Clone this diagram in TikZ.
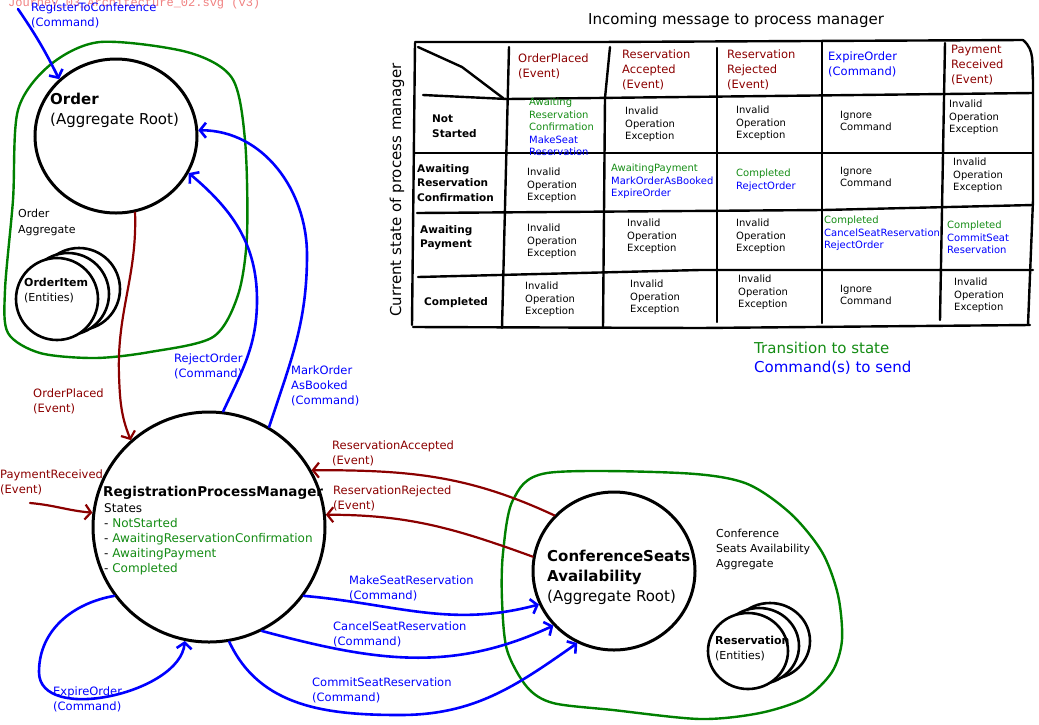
\documentclass[tikz,border=0pt]{standalone}
\usepackage{fontspec}
\setmainfont{DejaVu Sans}
\newfontfamily\wmfont{Liberation Mono}
\usetikzlibrary{shapes.geometric,arrows.meta}
\definecolor{evred}{RGB}{139,0,0}
\definecolor{aggreen}{RGB}{0,128,0}
\definecolor{stgreen}{RGB}{20,140,20}
\definecolor{cmdblue}{RGB}{0,0,255}
\definecolor{wmpink}{RGB}{240,128,128}
\begin{document}
\begin{tikzpicture}[x=1pt,y=-1pt,
  root/.style={ellipse,draw,line width=3pt,fill=white,inner sep=0pt},
  ent/.style={ellipse,draw,line width=2.6pt,fill=white,inner sep=0pt},
  agg/.style={draw=aggreen,line width=2.4pt},
  tbl/.style={line width=2.4pt,line cap=round,line join=round},
  cmd/.style={draw=cmdblue,line width=2.6pt,line cap=round,-{Straight Barb[length=6pt,width=15pt]}},
  evt/.style={draw=evred,line width=2.2pt,line cap=round,-{Straight Barb[length=6pt,width=15pt]}},
  lbl/.style={anchor=north west,inner sep=0pt,align=left,font=\fontsize{11.5}{15}\selectfont},
  cell/.style={lbl,font=\fontsize{10}{12.5}\selectfont},
  rowhd/.style={lbl,font=\bfseries\fontsize{10.5}{14.5}\selectfont}]
\pgfmathsetmacro{\kdx}{11}
\pgfmathsetmacro{\kdy}{5}
\useasboundingbox (0,0) rectangle (1039,724);
%watermark
\node[lbl,text=wmpink,font=\wmfont\fontsize{12}{12}\selectfont] (wm) at (8,-2) {Journey\_03\_Architecture\_02.svg (v3)};
%aggregates
\draw[agg] plot[smooth cycle] coordinates {(100,42) (187,52) (232,78) (245,140) (247,235) (238,295) (213,337) (150,352) (95,358) (40,353) (8,333) (5,290) (13,200) (18,110) (50,65)};
\draw[agg] plot[smooth cycle] coordinates {(547,473) (680,473) (745,483) (790,513) (822,552) (838,595) (842,640) (832,672) (805,698) (760,713) (700,719) (613,710) (553,703) (527,687) (507,650) (502,600) (503,553) (513,500)};
%roots
\node[root,minimum width=162pt,minimum height=154pt] (ord) at (116,136) {};
\node[root,minimum width=232pt,minimum height=230pt] (rpm) at (209,527) {};
\node[root,minimum width=162pt,minimum height=158pt] (csa) at (614,571) {};
%entities
\node[ent,minimum width=82pt,minimum height=82pt] (item3) at (57+2*\kdx,299-2*\kdy) {};
\node[ent,minimum width=82pt,minimum height=82pt] (item2) at (57+\kdx,299-\kdy) {};
\node[ent,minimum width=82pt,minimum height=82pt] (item1) at (57,299) {};
\node[ent,minimum width=80pt,minimum height=76pt] (res3) at (748+2*\kdx,651-2*\kdy) {};
\node[ent,minimum width=80pt,minimum height=76pt] (res2) at (748+\kdx,651-\kdy) {};
\node[ent,minimum width=80pt,minimum height=76pt] (res1) at (748,651) {};
%texts
\node[lbl,font=\fontsize{15}{20}\selectfont] (tord) at (50,93) {\textbf{Order}\\(Aggregate Root)};
\node[lbl,font=\fontsize{11}{16}\selectfont] (tagg) at (18,209) {Order\\Aggregate};
\node[lbl,font=\fontsize{11}{15}\selectfont] (titem) at (24,278) {\textbf{OrderItem}\\(Entities)};
\node[lbl,font=\bfseries\fontsize{13.5}{16}\selectfont] (trpm) at (103,486) {RegistrationProcessManager};
\node[lbl,font=\fontsize{12}{15}\selectfont] (tst) at (104,503) {States\\- \textcolor{stgreen}{NotStarted}\\- \textcolor{stgreen}{AwaitingReservationConfirmation}\\- \textcolor{stgreen}{AwaitingPayment}\\- \textcolor{stgreen}{Completed}};
\node[lbl,font=\fontsize{15}{20}\selectfont] (tcsa) at (547,550) {\textbf{ConferenceSeats}\\\textbf{Availability}\\(Aggregate Root)};
\node[lbl,font=\fontsize{11}{15}\selectfont] (tcagg) at (716,529) {Conference\\Seats Availability\\Aggregate};
\node[lbl,font=\fontsize{11}{15}\selectfont] (tres) at (715,636) {\textbf{Reservation}\\(Entities)};
%labels
\node[lbl,text=cmdblue] (lreg) at (31,3) {RegisterToConference\\(Command)};
\node[lbl,text=evred] (lop) at (33,389) {OrderPlaced\\(Event)};
\node[lbl,text=cmdblue] (lrej) at (174,354) {RejectOrder\\(Command)};
\node[lbl,text=cmdblue] (lmark) at (291,366) {MarkOrder\\AsBooked\\(Command)};
\node[lbl,text=evred] (lpay) at (0,470) {PaymentReceived\\(Event)};
\node[lbl,text=evred] (lacc) at (332,441) {ReservationAccepted\\(Event)};
\node[lbl,text=evred] (lrj) at (333,486) {ReservationRejected\\(Event)};
\node[lbl,text=cmdblue] (lmake) at (349,576) {MakeSeatReservation\\(Command)};
\node[lbl,text=cmdblue] (lcancel) at (333,622) {CancelSeatReservation\\(Command)};
\node[lbl,text=cmdblue] (lcommit) at (312,678) {CommitSeatReservation\\(Command)};
\node[lbl,text=cmdblue] (lexp) at (53,687) {ExpireOrder\\(Command)};
%arrows
\coordinate (reg) at (18,9);
\coordinate (pay) at (30,503);
\draw[cmd] (reg) to[bend left=4] (ord.135);
\draw[evt] (ord.-76) to[out=-88,in=92] (119,375) to[out=-88,in=112] (rpm.132);
\draw[cmd] (rpm.83) to[out=65,in=-90] (257,300) to[out=90,in=-40] (ord.-27);
\draw[cmd] (rpm.59) to[out=72,in=-90] (307,255) to[out=90,in=0] (ord.4);
\draw[evt] (pay) to[out=-5,in=175] (rpm.173);
\draw[evt] (csa.137) to[out=155,in=0] (rpm.29);
\draw[evt] (csa.170) to[out=160,in=0] (rpm.6);
\draw[cmd] (rpm.-36) to[out=-5,in=195] (csa.204);
\draw[cmd] (rpm.-63) to[out=-15,in=205] (csa.222);
\draw[cmd] (rpm.-80) to[out=-65,in=180] (400,715) to[out=0,in=215] (csa.243);
\draw[cmd] (rpm.216) to[out=190,in=90] (39,672) to[out=-90,in=-95,looseness=0.9] (rpm.258);
%table
\node[lbl,font=\fontsize{15}{18}\selectfont] (ttl) at (588,13) {Incoming message to process manager};
\node[font=\fontsize{15}{18}\selectfont,rotate=90] (tcur) at (397,190) {Current state of process manager};
\draw[tbl] (415,42) -- (597,42) -- (1023,40);
\draw[tbl] (1023,40) to[out=-40,in=95] (1033,80) -- (1033,200) -- (1028,325);
\draw[tbl] (415,43) -- (412,325);
\draw[tbl] (418,47) -- (462,67) -- (503,98);
\draw[tbl] (509,47) -- (502,328);
\draw[tbl] (610,47) -- (605,98) -- (603,328);
\draw[tbl] (717,48) -- (717,322);
\draw[tbl] (822,42) -- (822,323);
\draw[tbl] (945,43) -- (940,320);
\draw[tbl] (423,95) -- (507,99) -- (1033,93);
\draw[tbl] (415,153) -- (1033,153);
\draw[tbl] (417,213) -- (823,210) -- (1033,205);
\draw[tbl] (418,277) -- (700,270) -- (1033,270);
\draw[tbl] (413,327) -- (700,328) -- (1030,325);
%header
\node[lbl,text=evred] (h1) at (518,54) {OrderPlaced\\(Event)};
\node[lbl,text=evred] (h2) at (622,50) {Reservation\\Accepted\\(Event)};
\node[lbl,text=evred] (h3) at (727,50) {Reservation\\Rejected\\(Event)};
\node[lbl,text=cmdblue] (h4) at (828,52) {ExpireOrder\\(Command)};
\node[lbl,text=evred] (h5) at (951,45) {Payment\\Received\\(Event)};
\node[rowhd] (r1) at (432,115) {Not\\Started};
\node[rowhd] (r2) at (417,164) {Awaiting\\Reservation\\Confirmation};
\node[rowhd] (r3) at (420,225) {Awaiting\\Payment};
\node[rowhd] (r4) at (424,297) {Completed};
%cells
\node[cell,text=stgreen] (c11) at (529,98) {Awaiting\\Reservation\\Confirmation\\\textcolor{cmdblue}{MakeSeat}\\\textcolor{cmdblue}{Reservation}};
\node[cell] (c12) at (625,107) {Invalid\\Operation\\Exception};
\node[cell] (c13) at (736,106) {Invalid\\Operation\\Exception};
\node[cell] (c14) at (840,111) {Ignore\\Command};
\node[cell] (c15) at (949,100) {Invalid\\Operation\\Exception};
\node[cell] (c21) at (527,168) {Invalid\\Operation\\Exception};
\node[cell,text=stgreen] (c22) at (611,164) {AwaitingPayment\\\textcolor{cmdblue}{MarkOrderAsBooked}\\\textcolor{cmdblue}{ExpireOrder}};
\node[cell,text=stgreen] (c23) at (736,169) {Completed\\\textcolor{cmdblue}{RejectOrder}};
\node[cell] (c24) at (840,167) {Ignore\\Command};
\node[cell] (c25) at (953,158) {Invalid\\Operation\\Exception};
\node[cell] (c31) at (527,224) {Invalid\\Operation\\Exception};
\node[cell] (c32) at (627,219) {Invalid\\Operation\\Exception};
\node[cell] (c33) at (736,219) {Invalid\\Operation\\Exception};
\node[cell,text=stgreen] (c34) at (824,216) {Completed\\\textcolor{cmdblue}{CancelSeatReservation}\\\textcolor{cmdblue}{RejectOrder}};
\node[cell,text=stgreen] (c35) at (947,221) {Completed\\\textcolor{cmdblue}{CommitSeat}\\\textcolor{cmdblue}{Reservation}};
\node[cell] (c41) at (525,282) {Invalid\\Operation\\Exception};
\node[cell] (c42) at (630,280) {Invalid\\Operation\\Exception};
\node[cell] (c43) at (738,275) {Invalid\\Operation\\Exception};
\node[cell] (c44) at (840,285) {Ignore\\Command};
\node[cell] (c45) at (954,278) {Invalid\\Operation\\Exception};
%legend
\node[lbl,font=\fontsize{15}{19}\selectfont] (leg) at (754,342) {\textcolor{stgreen}{Transition to state}\\\textcolor{cmdblue}{Command(s) to send}};
\end{tikzpicture}
\end{document}
